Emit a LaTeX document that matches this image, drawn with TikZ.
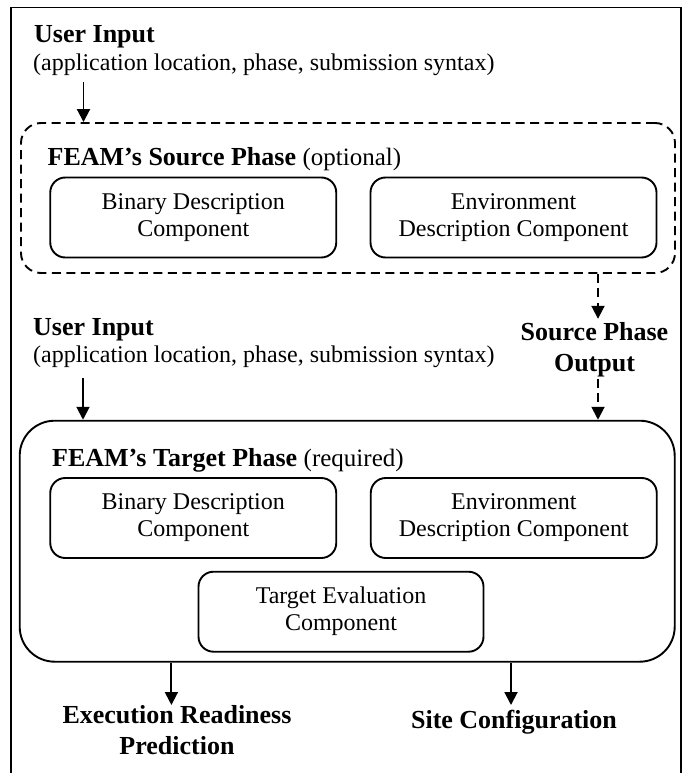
\documentclass[tikz,border=0pt]{standalone}
\usepackage{fontspec}
\setmainfont{Liberation Serif}
\usetikzlibrary{arrows.meta}
\newcommand\fReg{\fontsize{24}{27}\selectfont}
\newcommand\fBld{\fontsize{26}{31}\selectfont\bfseries}
\begin{document}
\begin{tikzpicture}[x=1pt,y=-1pt,
  lw/.style={line width=1.9pt},
  compbox/.style={draw,lw,rounded corners=15pt,inner sep=0pt,align=center,font=\fReg,minimum height=80pt,minimum width=286pt},
  arr/.style={lw,-{Triangle[length=13pt,width=13pt]}},
  darr/.style={arr,dash pattern=on 9pt off 5.5pt},
  ttl/.style={inner sep=0pt,anchor=base west,font=\fBld},
  sub/.style={inner sep=0pt,anchor=base west,font=\fReg},
  outtxt/.style={inner sep=0pt,align=center,font=\fBld}]
\useasboundingbox (0,0) rectangle (686,773);
% outer frame (open at the bottom)
\draw[lw] (11,773) -- (11,7.5) -- (681,7.5) -- (681,773);

% first user input
\node[ttl] (ui1) at (34,42.7) {User Input};
\node[sub] (ui1s) at (33,70.7) {(application location, phase, submission syntax)};
\coordinate (a1s) at (83.5,82);

% source phase
\node[draw,lw,dash pattern=on 9pt off 5.5pt,rounded corners=20pt,inner sep=0pt,minimum width=654pt,minimum height=150pt] (src) at (348,198) {};
\node[ttl] (srct) at (47.5,165) {FEAM’s Source Phase \fontsize{25}{30}\selectfont\mdseries(optional)};
\node[compbox] (sb) at (193.25,217.5) {Binary Description\\Component};
\node[compbox] (se) at (513.5,217.5) {Environment\\Description Component};

\draw[arr] (a1s) -- (src.north -| a1s);

% source phase output
\node[outtxt] (spo) at (594.5,349.3) {Source Phase\\Output};
\coordinate (dx) at (598,300);
\draw[darr,shorten >=3pt] (src.south -| dx) -- (spo.north -| dx);

% second user input
\node[ttl] (ui2) at (33,335) {User Input};
\node[sub] (ui2s) at (33,362.7) {(application location, phase, submission syntax)};
\coordinate (a2s) at (83,378);

% target phase
\node[draw,lw,rounded corners=35pt,inner sep=0pt,minimum width=655pt,minimum height=241pt] (tgt) at (347.2,541.2) {};
\node[ttl] (tgtt) at (52,466.7) {FEAM’s Target Phase \fontsize{25}{30}\selectfont\mdseries(required)};
\node[compbox] (tb) at (193.25,518) {Binary Description\\Component};
\node[compbox] (te) at (513.75,518) {Environment\\Description Component};
\node[compbox,minimum width=285pt] (tev) at (341,611.7) {Target Evaluation\\Component};

\draw[arr] (a2s) -- (tgt.north -| a2s);
\draw[darr,shorten <=2pt] (spo.south -| dx) -- (tgt.north -| dx);

% outputs
\node[outtxt] (er) at (177,729.7) {Execution Readiness\\Prediction};
\node[outtxt,anchor=base] (sc) at (514,728) {Site Configuration};
\coordinate (ex) at (171.4,705);
\coordinate (sx) at (511,705);
\draw[arr] (tgt.south -| ex) -- (ex);
\draw[arr] (tgt.south -| sx) -- (sx);
\end{tikzpicture}
\end{document}
